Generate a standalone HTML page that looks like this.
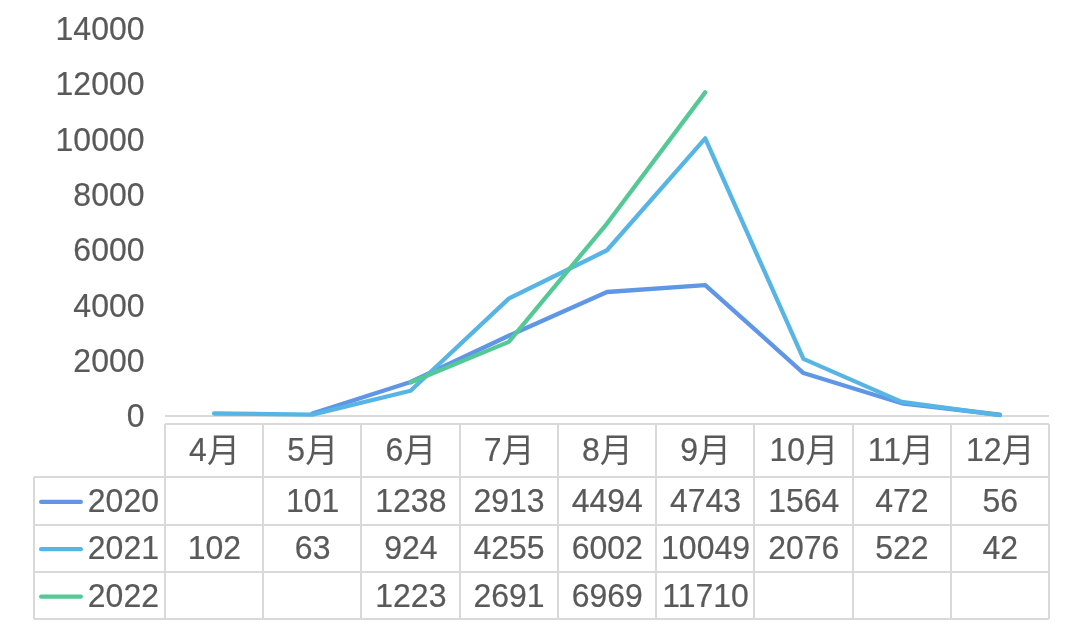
<!DOCTYPE html>
<html lang="zh"><head><meta charset="utf-8"><title>chart</title>
<style>
html,body{margin:0;padding:0;background:#fff;}
body{width:1072px;height:644px;overflow:hidden;}
svg{display:block;}
text{font-family:"Liberation Sans","Noto Sans CJK SC",sans-serif;font-size:32px;fill:#595959;stroke:#595959;stroke-width:0.2;}
text .m{font-size:31.3px;stroke:none;}
.g{stroke:#d9d9d9;stroke-width:2;fill:none;}
.s{fill:none;stroke-width:4.3;stroke-linecap:round;stroke-linejoin:round;}
</style></head><body>
<svg width="1072" height="644" viewBox="0 0 1072 644">
<rect width="1072" height="644" fill="#fff"/>
<text transform="translate(144.50 427.35) scale(1 1.0550)" text-anchor="end">0</text>
<text transform="translate(144.50 372.03) scale(1 1.0550)" text-anchor="end">2000</text>
<text transform="translate(144.50 316.71) scale(1 1.0550)" text-anchor="end">4000</text>
<text transform="translate(144.50 261.39) scale(1 1.0550)" text-anchor="end">6000</text>
<text transform="translate(144.50 206.06) scale(1 1.0550)" text-anchor="end">8000</text>
<text transform="translate(144.50 150.74) scale(1 1.0550)" text-anchor="end">10000</text>
<text transform="translate(144.50 95.42) scale(1 1.0550)" text-anchor="end">12000</text>
<text transform="translate(144.50 40.10) scale(1 1.0550)" text-anchor="end">14000</text>
<path class="g" d="M165 416H1049"/>
<path class="g" d="M165 424H1049M34 477H1049M34 525H1049M34 572H1049M34 619H1049M34 477V619M165 424V619M263 424V619M361 424V619M460 424V619M558 424V619M656 424V619M754 424V619M853 424V619M951 424V619M1049 424V619"/>
<path class="s" stroke="#6096e6" d="M312.33 413.51L410.56 382.06L508.78 335.72L607.00 291.99L705.22 285.11L803.44 373.04L901.67 403.24L999.89 414.75"/>
<path class="s" stroke="#57b5e5" d="M214.11 413.48L312.33 414.56L410.56 390.74L508.78 298.60L607.00 250.28L705.22 138.34L803.44 358.88L901.67 401.86L999.89 415.14"/>
<path class="s" stroke="#55c995" d="M410.56 382.47L508.78 341.87L607.00 223.53L705.22 92.39"/>
<text transform="translate(189.11 461.00) scale(1 1.0550)">4<tspan class="m" dy="0.95" textLength="33.00" lengthAdjust="spacingAndGlyphs">月</tspan></text>
<text transform="translate(287.33 461.00) scale(1 1.0550)">5<tspan class="m" dy="0.95" textLength="33.00" lengthAdjust="spacingAndGlyphs">月</tspan></text>
<text transform="translate(385.56 461.00) scale(1 1.0550)">6<tspan class="m" dy="0.95" textLength="33.00" lengthAdjust="spacingAndGlyphs">月</tspan></text>
<text transform="translate(483.78 461.00) scale(1 1.0550)">7<tspan class="m" dy="0.95" textLength="33.00" lengthAdjust="spacingAndGlyphs">月</tspan></text>
<text transform="translate(582.00 461.00) scale(1 1.0550)">8<tspan class="m" dy="0.95" textLength="33.00" lengthAdjust="spacingAndGlyphs">月</tspan></text>
<text transform="translate(680.22 461.00) scale(1 1.0550)">9<tspan class="m" dy="0.95" textLength="33.00" lengthAdjust="spacingAndGlyphs">月</tspan></text>
<text transform="translate(769.55 461.00) scale(1 1.0550)">10<tspan class="m" dy="0.95" textLength="33.00" lengthAdjust="spacingAndGlyphs">月</tspan></text>
<text transform="translate(867.77 461.00) scale(1 1.0550)">11<tspan class="m" dy="0.95" textLength="33.00" lengthAdjust="spacingAndGlyphs">月</tspan></text>
<text transform="translate(965.99 461.00) scale(1 1.0550)">12<tspan class="m" dy="0.95" textLength="33.00" lengthAdjust="spacingAndGlyphs">月</tspan></text>
<path class="s" stroke="#6096e6" d="M41.15 501.9H80.85"/>
<text transform="translate(87.80 512.00) scale(1 1.0550)">2020</text>
<text transform="translate(312.63 512.00) scale(1 1.0550)" text-anchor="middle">101</text>
<text transform="translate(410.86 512.00) scale(1 1.0550)" text-anchor="middle">1238</text>
<text transform="translate(509.08 512.00) scale(1 1.0550)" text-anchor="middle">2913</text>
<text transform="translate(607.30 512.00) scale(1 1.0550)" text-anchor="middle">4494</text>
<text transform="translate(705.52 512.00) scale(1 1.0550)" text-anchor="middle">4743</text>
<text transform="translate(803.74 512.00) scale(1 1.0550)" text-anchor="middle">1564</text>
<text transform="translate(901.97 512.00) scale(1 1.0550)" text-anchor="middle">472</text>
<text transform="translate(1000.19 512.00) scale(1 1.0550)" text-anchor="middle">56</text>
<path class="s" stroke="#57b5e5" d="M41.15 549.2H80.85"/>
<text transform="translate(87.80 559.00) scale(1 1.0550)">2021</text>
<text transform="translate(214.41 559.00) scale(1 1.0550)" text-anchor="middle">102</text>
<text transform="translate(312.63 559.00) scale(1 1.0550)" text-anchor="middle">63</text>
<text transform="translate(410.86 559.00) scale(1 1.0550)" text-anchor="middle">924</text>
<text transform="translate(509.08 559.00) scale(1 1.0550)" text-anchor="middle">4255</text>
<text transform="translate(607.30 559.00) scale(1 1.0550)" text-anchor="middle">6002</text>
<text transform="translate(705.52 559.00) scale(1 1.0550)" text-anchor="middle">10049</text>
<text transform="translate(803.74 559.00) scale(1 1.0550)" text-anchor="middle">2076</text>
<text transform="translate(901.97 559.00) scale(1 1.0550)" text-anchor="middle">522</text>
<text transform="translate(1000.19 559.00) scale(1 1.0550)" text-anchor="middle">42</text>
<path class="s" stroke="#55c995" d="M41.15 596.7H80.85"/>
<text transform="translate(87.80 607.00) scale(1 1.0550)">2022</text>
<text transform="translate(410.86 607.00) scale(1 1.0550)" text-anchor="middle">1223</text>
<text transform="translate(509.08 607.00) scale(1 1.0550)" text-anchor="middle">2691</text>
<text transform="translate(607.30 607.00) scale(1 1.0550)" text-anchor="middle">6969</text>
<text transform="translate(705.52 607.00) scale(1 1.0550)" text-anchor="middle">11710</text>
</svg>
</body></html>
